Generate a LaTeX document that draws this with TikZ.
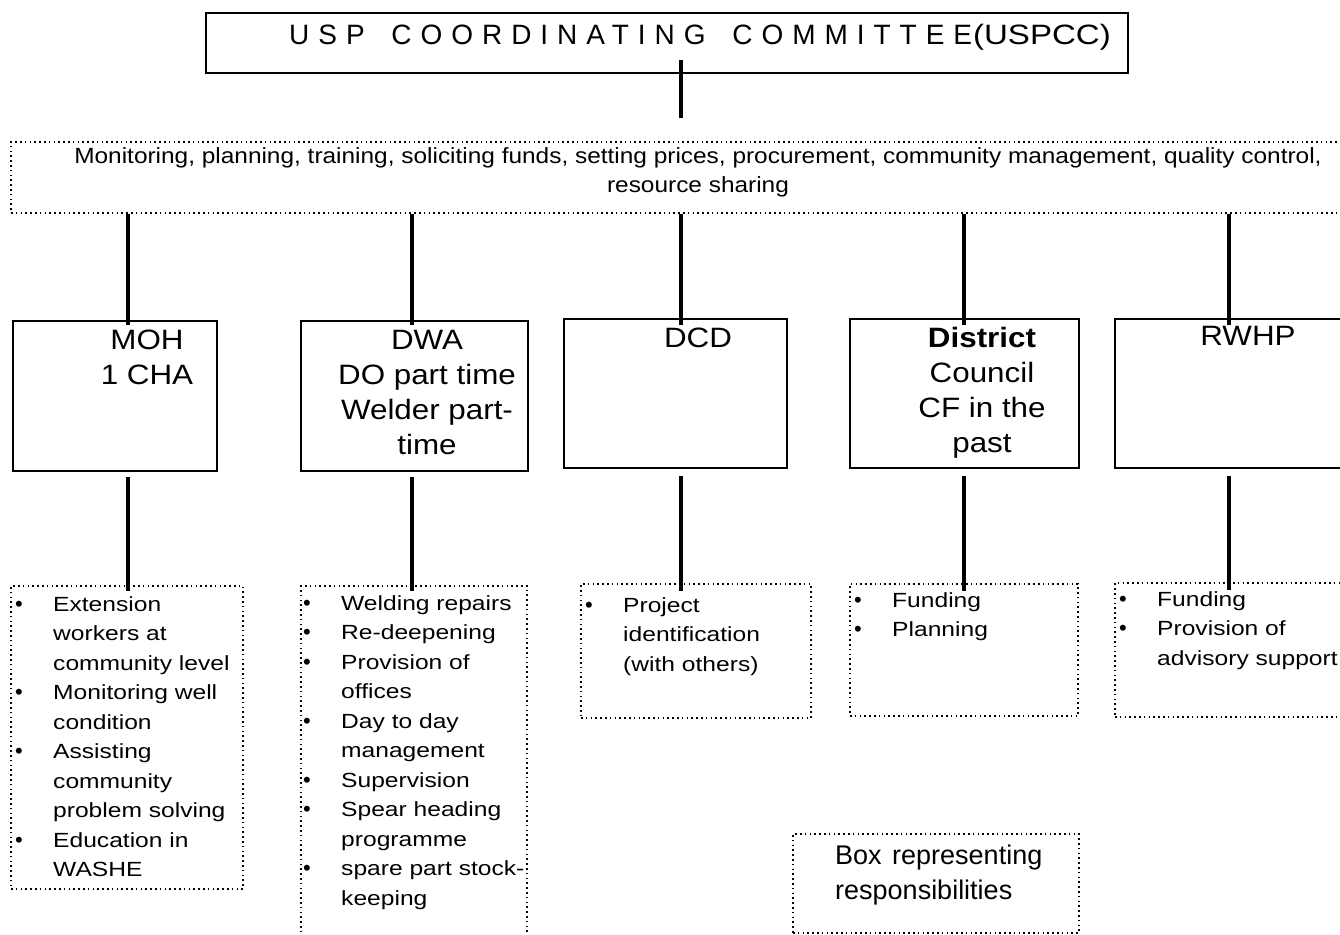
\documentclass[tikz,border=0pt]{standalone}
\usepackage{fontspec}
\setmainfont{Liberation Sans}
\newfontfamily\spacedfont[LetterSpace=32]{Liberation Sans}
\newcommand{\hs}[1]{\scalebox{1.12}[1]{#1}}
\newcommand{\bl}[1]{\makebox[0pt][l]{\hspace*{-5pt}\fontsize{22}{22}\selectfont\textbullet}\hspace*{33pt}\scalebox{1.2}[1]{#1}}
\newcommand{\nb}[1]{\hspace*{33pt}\scalebox{1.2}[1]{#1}}
\begin{document}
\begin{tikzpicture}[x=1pt,y=-1pt,
  solidbox/.style={draw, line width=1.8pt, inner sep=0pt, anchor=north west},
  dotbox/.style={draw, line width=1.9pt, dash pattern=on 1.6pt off 3.2pt, inner sep=0pt, anchor=north west},
  conn/.style={line width=3.5pt},
  headtext/.style={inner sep=0pt, anchor=north, align=center, font=\fontsize{28}{35}\selectfont},
  listtext/.style={inner sep=0pt, anchor=north west, align=left, font=\fontsize{20.5}{29.5}\selectfont},
]
\useasboundingbox (0,0) rectangle (1340,934);

% title
\node[solidbox, minimum width=922pt, minimum height=60pt] (title) at (205,12) {};
\node[inner sep=0pt, anchor=north] (titletext) at (700,24) {\fontsize{28}{30}\selectfont{\spacedfont USP\hspace{10pt} COORDINATING\hspace{10pt} COMMITTEE}\hspace{1pt}\scalebox{1.18}[1]{(USPCC)}};

% strip
\node[dotbox, minimum width=1345pt, minimum height=71pt] (strip) at (10,141) {};
\node[inner sep=0pt, anchor=north, align=center, font=\fontsize{22}{29}\selectfont] (striptext) at (698,147)
  {\scalebox{1.11}[1]{Monitoring, planning, training, soliciting funds, setting prices, procurement, community management, quality control,}\\ \scalebox{1.11}[1]{resource sharing}};

% organisation boxes
\node[solidbox, minimum width=204pt, minimum height=150pt] (moh) at (12,320) {};
\node[solidbox, minimum width=227pt, minimum height=150pt] (dwa) at (300,320) {};
\node[solidbox, minimum width=223pt, minimum height=149pt] (dcd) at (563,318) {};
\node[solidbox, minimum width=229pt, minimum height=149pt] (dc) at (849,318) {};
\node[solidbox, minimum width=240pt, minimum height=149pt] (rwhp) at (1114,318) {};

\node[headtext] (mohtext) at (147,330) {\hs{MOH}\\\hs{1 CHA}};
\node[headtext] (dwatext) at (427,330) {\hs{DWA}\\\hs{DO part time}\\\hs{Welder part-}\\\hs{time}};
\node[headtext] (dcdtext) at (698,328) {\hs{DCD}};
\node[headtext] (dctext) at (982,327) {\hs{\textbf{District}}\\\hs{Council}\\\hs{CF in the}\\\hs{past}};
\node[headtext] (rwhptext) at (1248,326) {\hs{RWHP}};

% responsibility boxes
\node[dotbox, minimum width=232pt, minimum height=303pt] (r1) at (10,585) {};
\node[dotbox, minimum width=226pt, minimum height=360pt] (r2) at (300,585) {};
\node[dotbox, minimum width=230pt, minimum height=134pt] (r3) at (580,583) {};
\node[dotbox, minimum width=228pt, minimum height=132pt] (r4) at (849,583) {};
\node[dotbox, minimum width=240pt, minimum height=134pt] (r5) at (1114,582) {};
\node[dotbox, minimum width=286pt, minimum height=99pt] (legend) at (792,833) {};

\node[listtext] (r1text) at (20,596) {\bl{Extension}\\\nb{workers at}\\\nb{community level}\\\bl{Monitoring well}\\\nb{condition}\\\bl{Assisting}\\\nb{community}\\\nb{problem solving}\\\bl{Education in}\\\nb{WASHE}};
\node[listtext] (r2text) at (308,595) {\bl{Welding repairs}\\\bl{Re-deepening}\\\bl{Provision of}\\\nb{offices}\\\bl{Day to day}\\\nb{management}\\\bl{Supervision}\\\bl{Spear heading}\\\nb{programme}\\\bl{spare part stock-}\\\nb{keeping}};
\node[listtext] (r3text) at (590,597) {\bl{Project}\\\nb{identification}\\\nb{(with others)}};
\node[listtext] (r4text) at (859,592) {\bl{Funding}\\\bl{Planning}};
\node[listtext] (r5text) at (1124,591) {\bl{Funding}\\\bl{Provision of}\\\nb{advisory support}};
\node[inner sep=0pt, anchor=north west, align=left, font=\fontsize{27}{35}\selectfont] (legendtext) at (835,845) {Box\hspace{3pt} representing\\responsibilities};

% connector x positions
\coordinate (x0) at (681,0);
\coordinate (x1) at (128,0);
\coordinate (x2) at (412,0);
\coordinate (x3) at (681,0);
\coordinate (x4) at (964,0);
\coordinate (x5) at (1229,0);

\draw[conn] ([yshift=14pt]title.south -| x0) -- ([yshift=23pt]strip.north -| x0);

\draw[conn] (strip.south -| x1) -- ([yshift=-5pt]moh.north -| x1);
\draw[conn] (strip.south -| x2) -- ([yshift=-5pt]dwa.north -| x2);
\draw[conn] (strip.south -| x3) -- ([yshift=-7pt]dcd.north -| x3);
\draw[conn] (strip.south -| x4) -- ([yshift=-7pt]dc.north -| x4);
\draw[conn] (strip.south -| x5) -- ([yshift=-7pt]rwhp.north -| x5);

\draw[conn] ([yshift=-5pt]moh.south -| x1) -- ([yshift=-6pt]r1.north -| x1);
\draw[conn] ([yshift=-5pt]dwa.south -| x2) -- ([yshift=-6pt]r2.north -| x2);
\draw[conn] ([yshift=-7pt]dcd.south -| x3) -- ([yshift=-8pt]r3.north -| x3);
\draw[conn] ([yshift=-7pt]dc.south -| x4) -- ([yshift=-8pt]r4.north -| x4);
\draw[conn] ([yshift=-7pt]rwhp.south -| x5) -- ([yshift=-8pt]r5.north -| x5);
\end{tikzpicture}
\end{document}
